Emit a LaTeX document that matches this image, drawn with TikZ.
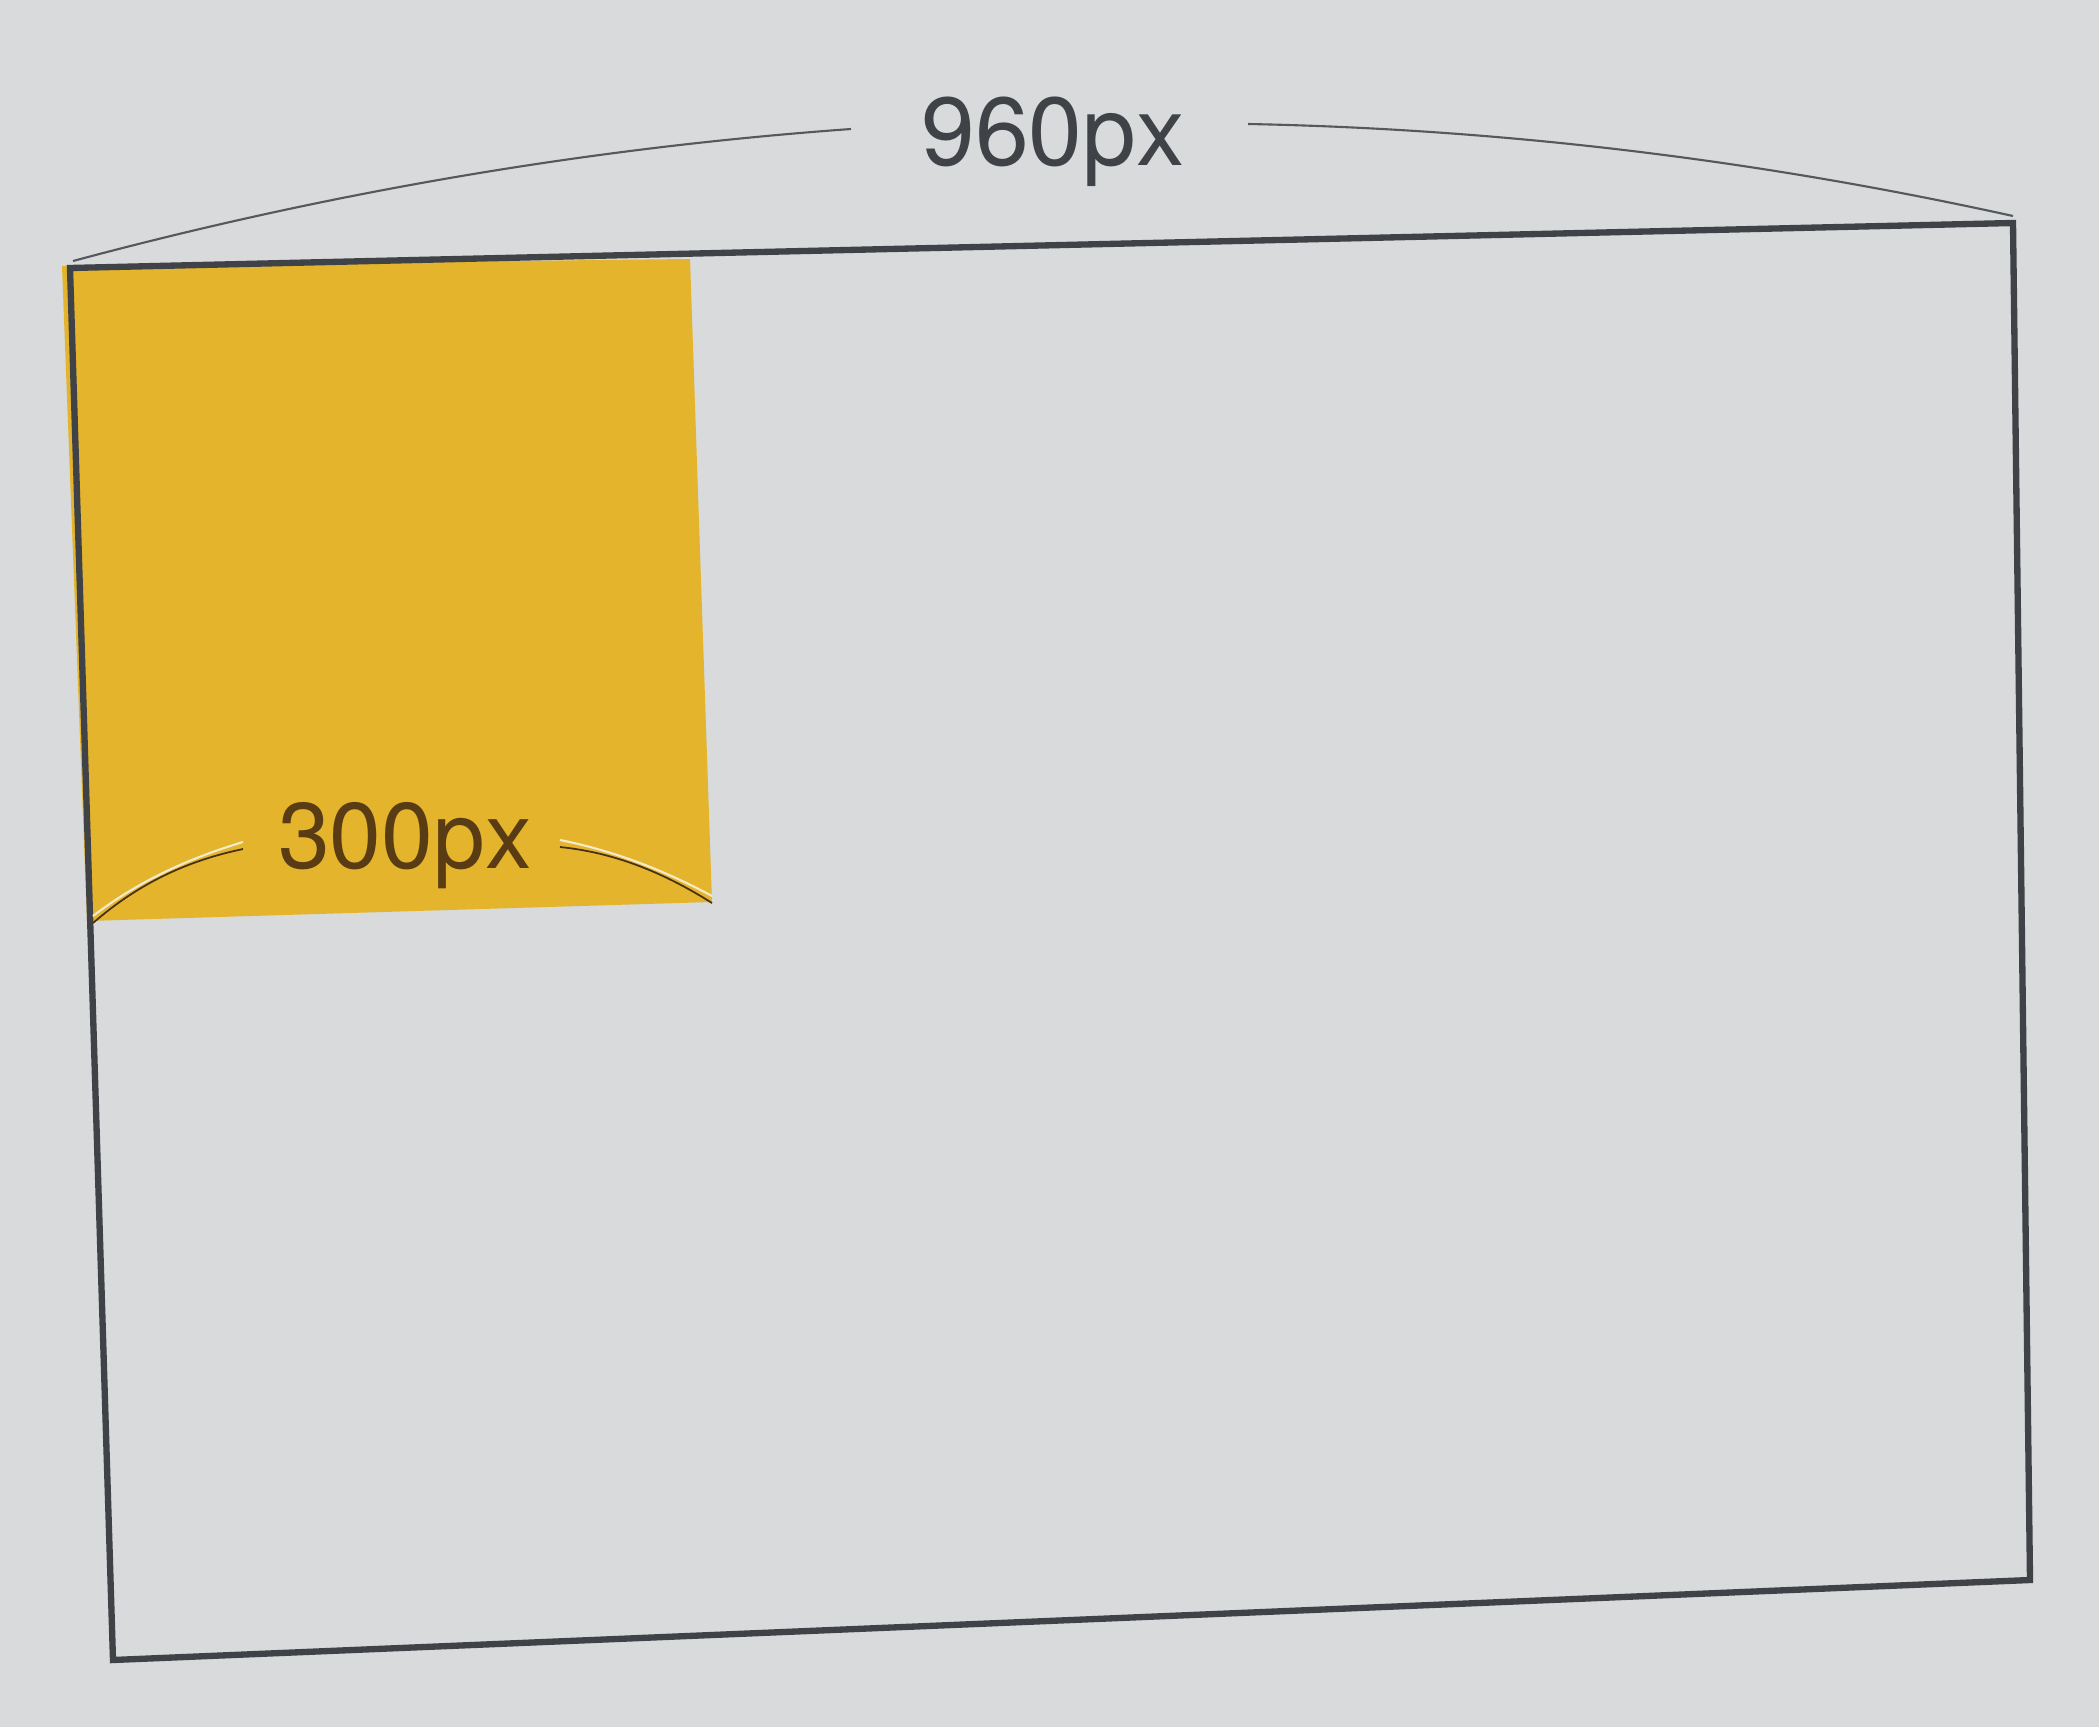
\documentclass[tikz,border=0pt]{standalone}
\usepackage{fontspec}
\setmainfont{TeX Gyre Heros}
\definecolor{paper}{HTML}{D8DADB}
\definecolor{ink}{HTML}{3F4247}
\definecolor{mustard}{HTML}{E3B42C}
\definecolor{brownink}{HTML}{5A3C14}
\definecolor{dimgray}{HTML}{55585C}
\definecolor{cream}{HTML}{F3EBCB}
\tikzset{
  frameline/.style={draw=ink, line width=1.8pt, line join=miter},
  dimline/.style={draw=dimgray, line width=0.6pt},
  dimlabel/.style={text=ink, anchor=base, inner sep=0pt, font=\fontsize{27.5}{30}\selectfont},
  innerlabel/.style={text=brownink, anchor=base, inner sep=0pt, font=\fontsize{26.5}{30}\selectfont},
  lightdim/.style={draw=cream, line width=0.6pt},
  darkdim/.style={draw=brownink!80!black, line width=0.5pt},
}
\begin{document}
\begin{tikzpicture}[x=0.01cm, y=-0.01cm]
\fill[paper] (0,0) rectangle (2099,1727);
\useasboundingbox (0,0) rectangle (2099,1727);
% corners
\coordinate (tl) at (70,268);
\coordinate (tr) at (2013,223);
\coordinate (br) at (2030,1580);
\coordinate (bl) at (113,1660);
% yellow square
\coordinate (ytl) at (62,266);
\coordinate (ytr) at (690,259);
\coordinate (ybr) at (712,902);
\coordinate (ybl) at (87,921);
\fill[mustard] (ytl) -- (ytr) -- (ybr) -- (ybl) -- cycle;
% frame
\draw[frameline] (tl) -- (tr) -- (br) -- (bl) -- cycle;
% 960px dimension
\node[dimlabel] (w960) at (1053,165) {960px};
\coordinate (a1) at (73,261);
\coordinate (a2) at (851,129);
\coordinate (a3) at (1248,124);
\coordinate (a4) at (2013,216);
\draw[dimline] (a1) .. controls (332.7,191.3) and (592.1,147.7) .. (a2);
\draw[dimline] (a3) .. controls (1503.9,129) and (1758.7,160) .. (a4);
% 300px dimension
\node[innerlabel] (w300) at (405,868) {300px};
\coordinate (b1) at (93,916);
\coordinate (b2) at (243,842);
\coordinate (b3) at (560,840);
\coordinate (b4) at (712,896);
\draw[darkdim] ([yshift=-2]b1) .. controls (140,882) and (190,860) .. ([yshift=-2]b2);
\draw[lightdim] (b1) .. controls (140,880) and (190,858) .. (b2);
\draw[darkdim] ([yshift=-2]b3) .. controls (610,852) and (660,870) .. ([yshift=-2]b4);
\draw[lightdim] (b3) .. controls (610,850) and (660,868) .. (b4);
\end{tikzpicture}
\end{document}
